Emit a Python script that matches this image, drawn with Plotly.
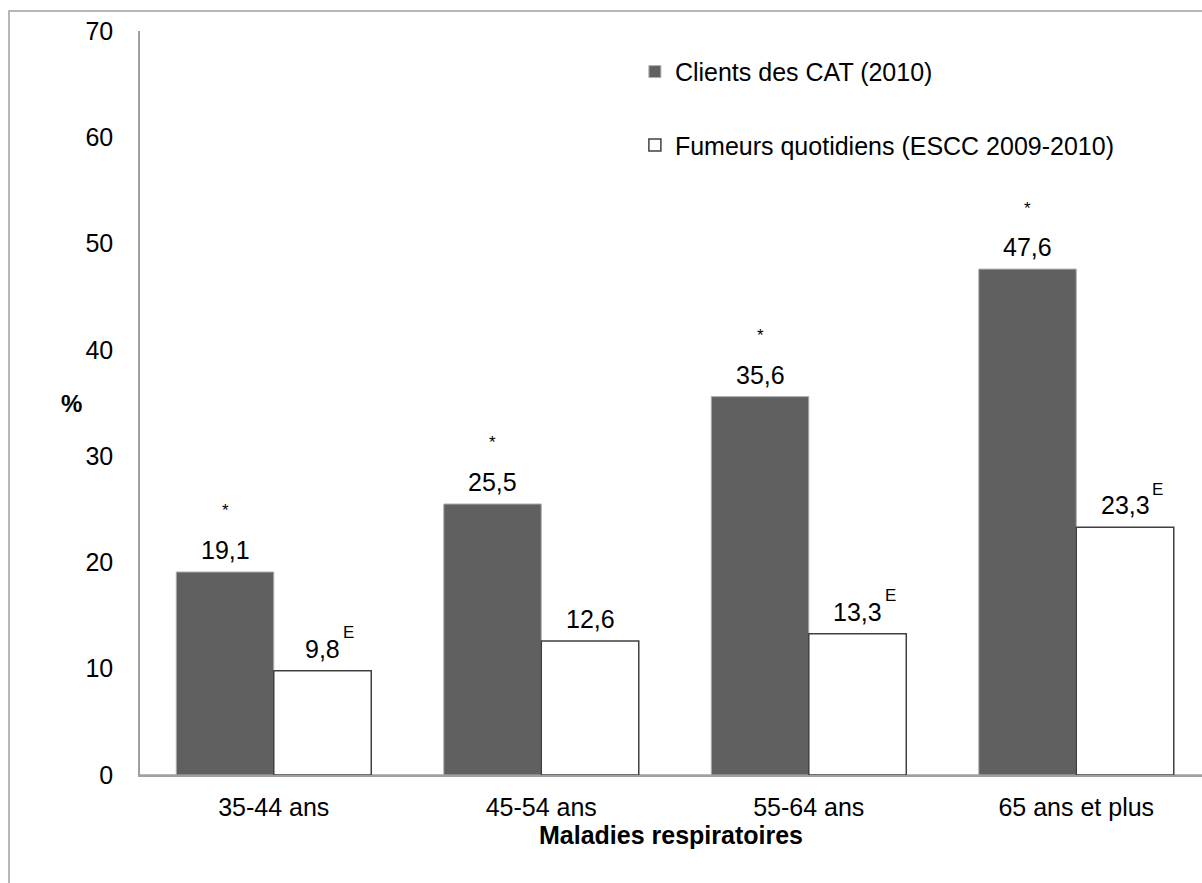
import plotly.graph_objects as go

categories = ["35-44 ans", "45-54 ans", "55-64 ans", "65 ans et plus"]
series_names = ["Clients des CAT (2010)", "Fumeurs quotidiens (ESCC 2009-2010)"]
cat_values = [19.1, 25.5, 35.6, 47.6]
escc_values = [9.8, 12.6, 13.3, 23.3]
cat_star = [True, True, True, True]
escc_flag_E = [True, False, True, True]
y_ticks = [0, 10, 20, 30, 40, 50, 60, 70]
x_title = "Maladies respiratoires"
y_title = "%"

FONT = "Liberation Sans, Arial, sans-serif"
FS = 25
DARK = "#606060"

BARGAP = 0.271
half = (1 - BARGAP) / 4  # center offset of each bar in category units


def fmt(v):
    return f"{v:.1f}".replace(".", ",")


def text_width(s, size):
    w = 0.0
    for c in s:
        w += 0.556 if c.isdigit() else 0.278
    return w * size


fig = go.Figure()
fig.add_trace(go.Bar(
    x=categories, y=cat_values, name=series_names[0], legendgroup="a",
    marker=dict(color=DARK, line=dict(color="#B0B0B0", width=1)),
))
fig.add_trace(go.Bar(
    x=categories, y=escc_values, name=series_names[1], legendgroup="b",
    marker=dict(color="#FFFFFF", line=dict(color="#404040", width=1.5)),
))

ann = []
for i, (v, s) in enumerate(zip(cat_values, cat_star)):
    ann.append(dict(x=i - half, y=v, xref="x", yref="y", text=fmt(v), showarrow=False,
                    yanchor="middle", yshift=22, font=dict(family=FONT, size=FS, color="#000")))
    if s:
        ann.append(dict(x=i - half, y=v, xref="x", yref="y", text="*", showarrow=False,
                        yanchor="middle", yshift=61, font=dict(family=FONT, size=17, color="#000")))
for i, (v, e) in enumerate(zip(escc_values, escc_flag_E)):
    t = fmt(v)
    ann.append(dict(x=i + half, y=v, xref="x", yref="y", text=t, showarrow=False,
                    yanchor="middle", yshift=22, font=dict(family=FONT, size=FS, color="#000")))
    if e:
        ann.append(dict(x=i + half, y=v, xref="x", yref="y", text="E", showarrow=False,
                        xanchor="left", xshift=text_width(t, FS) / 2 + 1,
                        yanchor="middle", yshift=38, font=dict(family=FONT, size=17, color="#000")))

ann.append(dict(x=0, y=0.5, xref="paper", yref="paper", text="<b>" + y_title + "</b>",
                showarrow=False, xanchor="center", xshift=-69, yanchor="middle",
                font=dict(family=FONT, size=24, color="#000")))

fig.update_layout(
    width=1202, height=883,
    margin=dict(l=140, r=0, t=31, b=108, autoexpand=False),
    paper_bgcolor="white", plot_bgcolor="white",
    font=dict(family=FONT, size=FS, color="#000"),
    barmode="group", bargap=BARGAP, bargroupgap=0,
    showlegend=True,
    legend=dict(x=0.466, y=0.976, xanchor="left", yanchor="top",
                traceorder="grouped", tracegroupgap=38,
                bgcolor="rgba(0,0,0,0)", font=dict(family=FONT, size=FS, color="#000")),
    annotations=ann,
    shapes=[
        dict(type="rect", xref="paper", yref="paper",
             x0=-131 / 1062, x1=1.05, y0=-0.2, y1=1 + 20 / 744,
             line=dict(color="#A0A0A0", width=1.5), fillcolor="rgba(0,0,0,0)", layer="below"),
        dict(type="line", xref="paper", yref="y", x0=0, x1=1, y0=0, y1=0,
             line=dict(color="#A0A0A0", width=1.5), layer="below"),
    ],
)
fig.update_xaxes(
    range=[-0.5, 3.47], showline=True, linecolor="#A0A0A0", linewidth=1.5,
    showgrid=False, ticks="", ticklabelstandoff=9,
    tickfont=dict(family=FONT, size=FS, color="#000"),
    title=dict(text="<b>" + x_title + "</b>", standoff=3,
               font=dict(family=FONT, size=FS, color="#000")),
)
fig.update_yaxes(
    range=[0, 70], tickvals=y_ticks, showline=True, linecolor="#A0A0A0", linewidth=1.5,
    showgrid=False, zeroline=False, ticks="", ticklabelstandoff=20,
    tickfont=dict(family=FONT, size=FS, color="#000"),
)

fig.write_html("out.html", config={"displayModeBar": False},
               post_script="document.body.style.margin='0';")
